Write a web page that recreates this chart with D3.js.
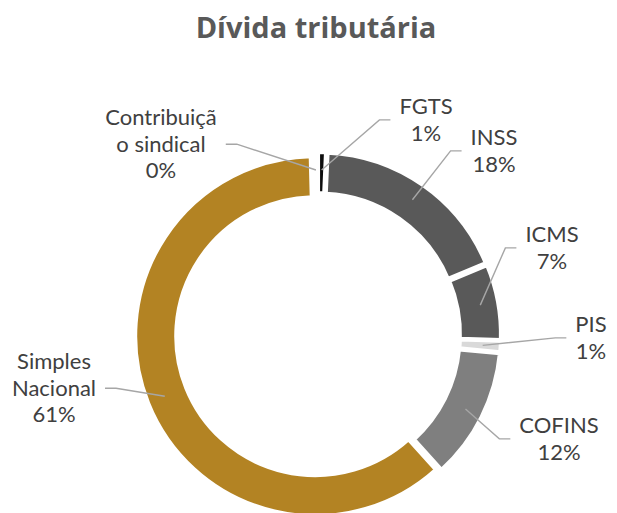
<!DOCTYPE html>
<html>
<head>
<meta charset="utf-8">
<script src="https://cdn.jsdelivr.net/npm/d3@7"></script>
<style>
  html, body { margin: 0; padding: 0; background: #ffffff; }
  svg { display: block; }
</style>
</head>
<body>
<svg id="chart" width="617" height="513"></svg>
<script>
// ---- data ----
const title = "Dívida tributária";
const categories = ["FGTS", "INSS", "ICMS", "PIS", "COFINS", "Simples Nacional", "Contribuição sindical"];
const values = [0.7, 18.0, 6.8, 1.0, 11.8, 61.3, 0.4];
const labelLines = [["FGTS"], ["INSS"], ["ICMS"], ["PIS"], ["COFINS"], ["Simples", "Nacional"], ["Contribuiçã", "o sindical"]];
const colors = ["#0d0d0d", "#595959", "#595959", "#d9d9d9", "#7f7f7f", "#b38323", "#ffffff"];

// ---- layout (label anchor: centre x, first baseline, side of the leader) ----
const labelLayout = {
  "FGTS": { x: 426, y: 114, side: "right" },
  "INSS": { x: 494, y: 145, side: "right" },
  "ICMS": { x: 552, y: 242, side: "right" },
  "PIS": { x: 591, y: 332, side: "right" },
  "COFINS": { x: 559, y: 433, side: "right" },
  "Simples Nacional": { x: 54, y: 369, side: "left" },
  "Contribuição sindical": { x: 161, y: 125, side: "left" }
};

const svg = d3.select("#chart");
const cx = 318, cy = 335;
const outerR = 180, innerR = 139, explode = 3;
const fontSize = 22, lineH = 26.7;

svg.append("text")
  .attr("x", 316).attr("y", 38)
  .attr("text-anchor", "middle")
  .style("font-family", "'Open Sans', Lato, sans-serif")
  .style("font-weight", "bold")
  .style("font-size", "29px")
  .style("fill", "#595959")
  .text(title);

const color = d3.scaleOrdinal().domain(categories).range(colors);
const data = categories.map((c, i) => ({ cat: c, value: values[i], lines: labelLines[i] }));
const total = d3.sum(values);

const pie = d3.pie().sort(null).value(d => d.value).startAngle(0).endAngle(2 * Math.PI);
const arcs = pie(data);
const arc = d3.arc().innerRadius(innerR).outerRadius(outerR);
const midArc = d3.arc().innerRadius(162).outerRadius(162);

const g = svg.append("g").attr("transform", `translate(${cx},${cy})`);

function offset(d) {
  const a = (d.startAngle + d.endAngle) / 2;
  return [explode * Math.sin(a), -explode * Math.cos(a)];
}

g.selectAll("path.slice")
  .data(arcs)
  .join("path")
  .attr("class", "slice")
  .attr("transform", d => { const o = offset(d); return `translate(${o[0]},${o[1]})`; })
  .attr("d", arc)
  .attr("fill", d => color(d.data.cat))
  .attr("stroke", "#ffffff")
  .attr("stroke-width", 4)
  .attr("stroke-linejoin", "miter");

// ---- labels ----
const labelG = svg.append("g");
arcs.forEach(d => {
  const L = labelLayout[d.data.cat];
  const lines = d.data.lines.concat([Math.round(d.data.value / total * 100) + "%"]);
  const t = labelG.append("text")
    .attr("text-anchor", "middle")
    .style("font-family", "Lato, 'Open Sans', sans-serif")
    .style("font-size", fontSize + "px")
    .style("fill", "#404040");
  lines.forEach((ln, i) => {
    t.append("tspan").attr("x", L.x).attr("y", L.y + i * lineH).text(ln);
  });
  let w = 0;
  t.selectAll("tspan").each(function () { w = Math.max(w, this.getComputedTextLength()); });
  const midY = L.y + (lines.length - 1) * lineH / 2 - 7.5;
  const c = midArc.centroid(d);
  const o = offset(d);
  const sx = cx + c[0] + o[0], sy = cy + c[1] + o[1];
  let endX, elbowX;
  if (L.side === "right") {
    endX = L.x - w / 2 - 9; elbowX = endX - 11;
  } else {
    endX = L.x + w / 2 + 9; elbowX = endX + 11;
  }
  labelG.append("polyline")
    .attr("points", `${endX},${midY} ${elbowX},${midY} ${sx},${sy}`)
    .attr("fill", "none")
    .attr("stroke", "#a6a6a6")
    .attr("stroke-width", 1.4);
});
</script>
</body>
</html>
